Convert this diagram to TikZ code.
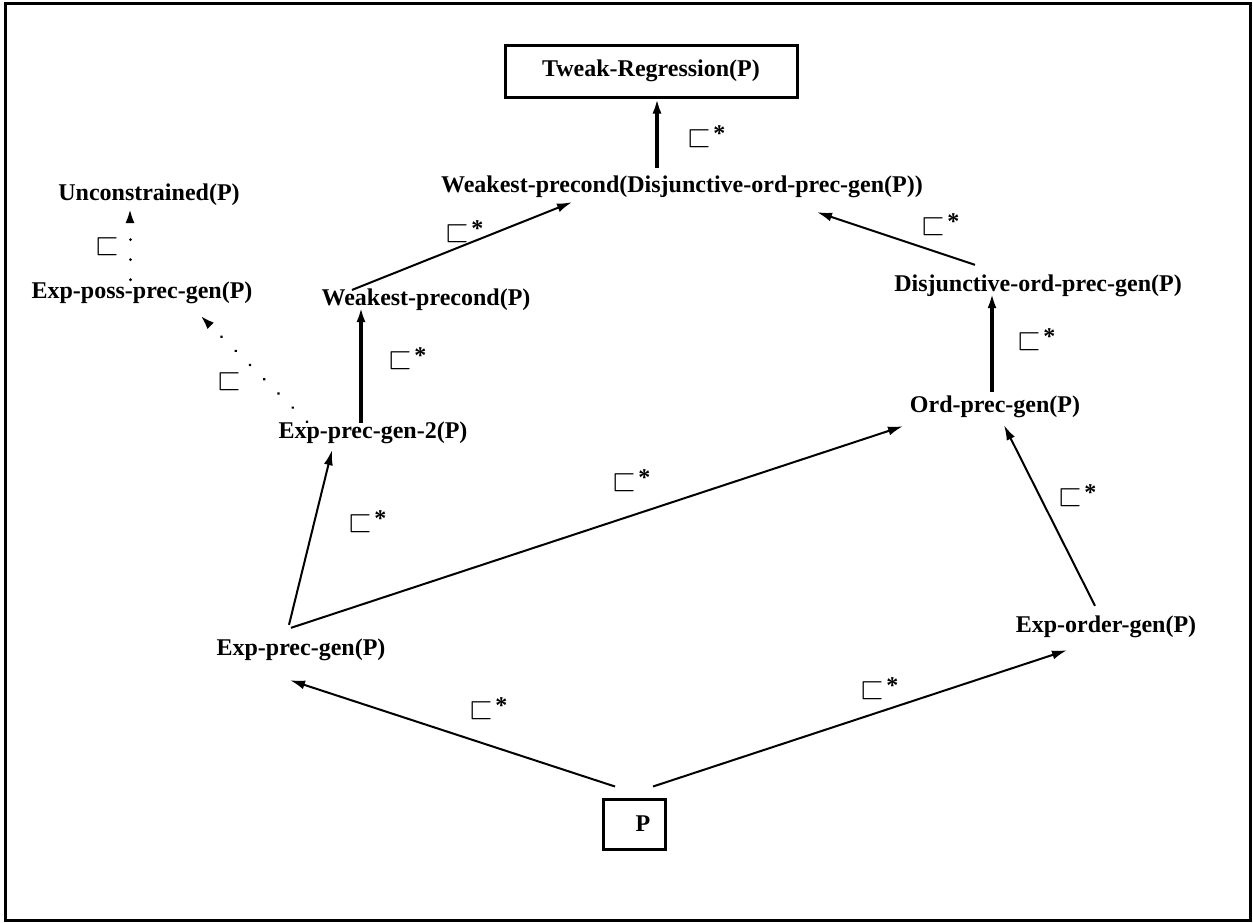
\documentclass[tikz,border=0pt]{standalone}
\usepackage{amssymb}
\usepackage{graphicx}
\usepackage{fontspec}
\setmainfont{Liberation Serif}
\usetikzlibrary{arrows.meta,positioning}

\newcommand{\refines}{\scalebox{1.3}{$\sqsubset$}}
\newcommand{\refinesstar}{\refines\kern2pt\raisebox{5pt}{\bfseries *}}

\tikzset{
  lbl/.style={font=\bfseries\fontsize{24}{28}\selectfont, inner sep=2pt},
  boxed/.style={lbl, draw, line width=3pt},
  conn/.style={-{Latex[length=15pt,width=9pt]}, line width=2pt},
  strong/.style={conn, line width=3.5pt},
  dots/.style={conn, dash pattern=on 0.1pt off 20pt, line cap=round, line width=3pt},
  rel/.style={anchor=base west, inner sep=0pt, font=\fontsize{24}{28}\selectfont}
}

\begin{document}
\begin{tikzpicture}[x=1pt,y=-1pt]
  \useasboundingbox (0,0) rectangle (1253,922);
  \draw[line width=3pt] (5,3) rectangle (1250,920);
  % the orderings
  \node[boxed, minimum width=292pt, minimum height=52pt] (tw) at (651,71) {Tweak-Regression(P)};
  \node[lbl] (wd) at (682,187) {Weakest-precond(Disjunctive-ord-prec-gen(P))};
  \node[lbl] (un) at (149,195) {Unconstrained(P)};
  \node[lbl] (ep) at (142,293) {Exp-poss-prec-gen(P)};
  \node[lbl] (wp) at (426,300) {Weakest-precond(P)};
  \node[lbl] (dj) at (1038,286) {Disjunctive-ord-prec-gen(P)};
  \node[lbl] (e2) at (373,433) {Exp-prec-gen-2(P)};
  \node[lbl] (op) at (995,407) {Ord-prec-gen(P)};
  \node[lbl] (eg) at (301,650) {Exp-prec-gen(P)};
  \node[lbl] (eo) at (1106,627) {Exp-order-gen(P)};
  \node[boxed, minimum width=62pt, minimum height=50pt] (p) at (634,824) {\kern18pt P};
  % refinement arrows
  \draw[strong] ([xshift=-25pt,yshift=6pt]wd.north) -- ([xshift=6pt]tw.south);
  \draw[conn] ([xshift=-74pt,yshift=-3pt]wp.north) -- ([xshift=-110pt,yshift=-2pt]wd.south);
  \draw[conn] ([xshift=-63pt,yshift=8pt]dj.north) -- ([xshift=135pt,yshift=-12pt]wd.south);
  \draw[strong] ([xshift=-3pt,yshift=2pt]op.north) -- ([xshift=-46pt,yshift=6pt]dj.south);
  \draw[strong] ([xshift=-12pt,yshift=-3pt]e2.north) -- ([xshift=-65pt,yshift=6pt]wp.south);
  \draw[dots] ([xshift=-66pt,yshift=-2pt]e2.north) -- ([xshift=58pt,yshift=-9pt]ep.south);
  \draw[dots] ([xshift=-12pt]ep.north) -- ([xshift=-19pt]un.south);
  \draw[conn] ([xshift=-12pt,yshift=12pt]eg.north) -- ([xshift=-41pt,yshift=-4pt]e2.south);
  \draw[conn] ([xshift=-10pt,yshift=9pt]eg.north) -- ([xshift=-92pt,yshift=-6pt]op.south);
  \draw[conn] ([xshift=-11pt,yshift=8pt]eo.north) -- ([xshift=9pt,yshift=-5pt]op.south);
  \draw[conn] ([xshift=-19pt,yshift=11pt]p.north) -- ([xshift=-11pt,yshift=-17pt]eg.south);
  \draw[conn] ([xshift=19pt,yshift=11pt]p.north) -- ([xshift=-39pt,yshift=-10pt]eo.south);
  % relation labels
  \node[rel] (r1) at (687,146) {\refinesstar};
  \node[rel] (r2) at (445,241) {\refinesstar};
  \node[rel] (r3) at (921,234) {\refinesstar};
  \node[rel] (r4) at (1017,349) {\refinesstar};
  \node[rel] (r5) at (388,368) {\refinesstar};
  \node[rel] (r6) at (217,389) {\refines};
  \node[rel] (r7) at (95,254) {\refines};
  \node[rel] (r8) at (348,531) {\refinesstar};
  \node[rel] (r9) at (612,490) {\refinesstar};
  \node[rel] (r10) at (1058,505) {\refinesstar};
  \node[rel] (r11) at (469,718) {\refinesstar};
  \node[rel] (r12) at (860,698) {\refinesstar};
\end{tikzpicture}
\end{document}
